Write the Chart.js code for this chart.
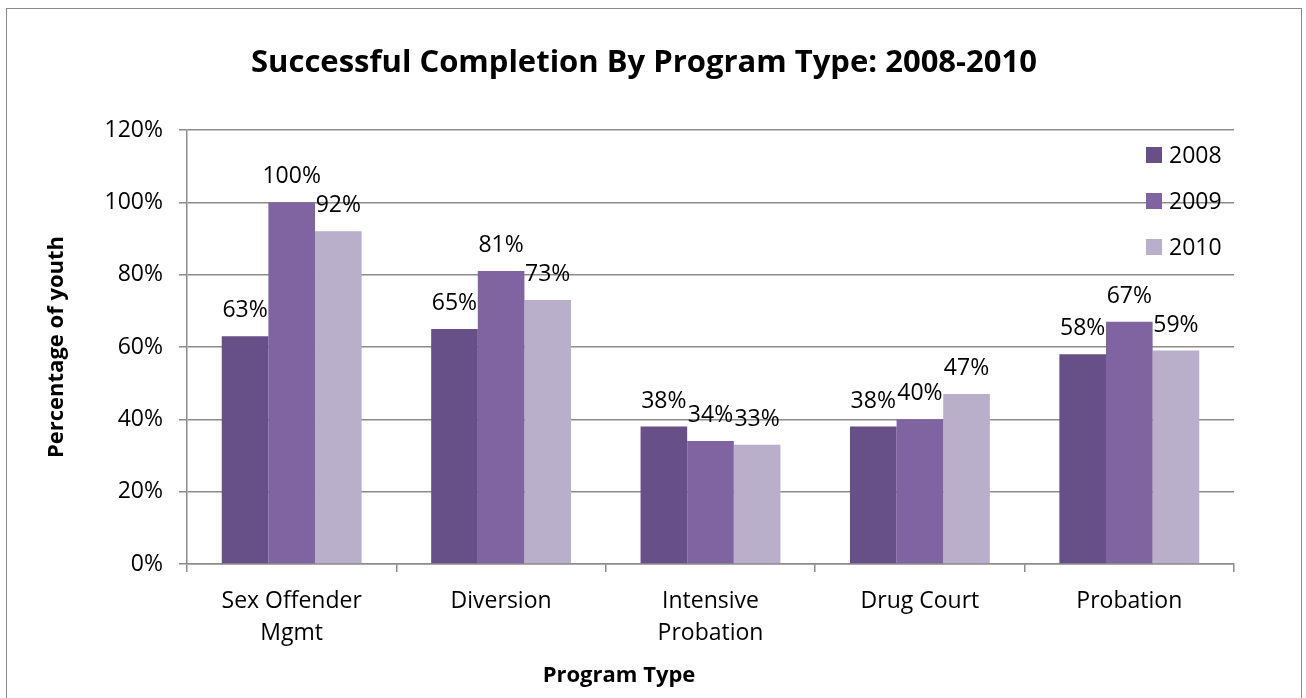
<!DOCTYPE html>
<html>
<head>
<meta charset="utf-8">
<title>Successful Completion By Program Type</title>
<script src="https://cdn.jsdelivr.net/npm/chart.js@4"></script>
<style>
  html, body { margin: 0; padding: 0; background: #fff; }
  #wrap { position: relative; width: 1306px; height: 698px; overflow: hidden; }
  #frame {
    position: absolute; left: 6px; top: 8px; width: 1294px; height: 720px;
    border: 1.5px solid #8a8a8a; pointer-events: none;
  }
  canvas { position: absolute; left: 0; top: 0; }
</style>
</head>
<body>
<div id="wrap">
  <canvas id="completionChart" width="1306" height="698"></canvas>
  <div id="frame"></div>
</div>
<script>
// Program types along the x axis (arrays = wrapped labels)
const programs = [['Sex Offender', 'Mgmt'], 'Diversion', ['Intensive', 'Probation'], 'Drug Court', 'Probation'];
const years = ['2008', '2009', '2010'];

// Percent of youth completing successfully
const completion2008 = [63, 65, 38, 38, 58];
const completion2009 = [100, 81, 34, 40, 67];
const completion2010 = [92, 73, 33, 47, 59];

const yMax = 120;
const yStep = 20;

const barColors = ['#674f87', '#8064a2', '#b9afcb'];
const FONT = 'Open Sans';

// Value labels above each bar
const barLabels = {
  id: 'barLabels',
  afterDatasetsDraw(chart) {
    const ctx = chart.ctx;
    ctx.save();
    ctx.font = '23px "' + FONT + '"';
    ctx.fillStyle = '#000';
    ctx.textAlign = 'center';
    ctx.textBaseline = 'alphabetic';
    chart.data.datasets.forEach(function (ds, i) {
      chart.getDatasetMeta(i).data.forEach(function (bar, j) {
        ctx.fillText(ds.data[j] + '%', bar.x, bar.y - 19);
      });
    });
    ctx.restore();
  }
};

// Title, x axis title and the legend sitting inside the plot area
const extras = {
  id: 'extras',
  afterDraw(chart) {
    const ctx = chart.ctx;
    const area = chart.chartArea;
    ctx.save();
    ctx.fillStyle = '#000';

    ctx.font = 'bold 31px "' + FONT + '"';
    ctx.textAlign = 'center';
    ctx.textBaseline = 'alphabetic';
    ctx.fillText('Successful Completion By Program Type: 2008-2010', 644, 72);

    ctx.font = 'bold 22px "' + FONT + '"';
    ctx.fillText('Program Type', 619, 682);

    ctx.font = '23px "' + FONT + '"';
    ctx.textAlign = 'left';
    ctx.textBaseline = 'middle';
    chart.data.datasets.forEach(function (ds, i) {
      const y = area.top + 25 + i * 46;
      ctx.fillStyle = ds.backgroundColor;
      ctx.fillRect(area.right - 88, y - 8, 16, 16);
      ctx.fillStyle = '#000';
      ctx.fillText(ds.label, area.right - 65, y + 1);
    });
    ctx.restore();
  }
};

const ctx = document.getElementById('completionChart').getContext('2d');
const completionChart = new Chart(ctx, {
  type: 'bar',
  data: {
    labels: programs,
    datasets: [
      { label: years[0], data: completion2008, backgroundColor: barColors[0] },
      { label: years[1], data: completion2009, backgroundColor: barColors[1] },
      { label: years[2], data: completion2010, backgroundColor: barColors[2] }
    ]
  },
  options: {
    responsive: false,
    animation: false,
    layout: { padding: { left: 0, top: 130, right: 72, bottom: 0 } },
    datasets: {
      bar: { categoryPercentage: 0.668, barPercentage: 1.0, borderWidth: 0 }
    },
    plugins: {
      legend: { display: false },
      title: { display: false },
      tooltip: { enabled: false }
    },
    scales: {
      x: {
        grid: { offset: true, drawOnChartArea: false, drawTicks: true, tickLength: 8, color: '#8c8c8c', lineWidth: 1.5 },
        border: { display: true, color: '#8c8c8c', width: 1.5 },
        ticks: {
          color: '#000',
          font: { family: FONT, size: 23, lineHeight: 1.4 },
          padding: 13,
          maxRotation: 0
        },
        afterFit(scale) { scale.height = 134; }
      },
      y: {
        min: 0,
        max: yMax,
        grid: { color: '#8c8c8c', lineWidth: 1.5, tickLength: 8 },
        border: { display: true, color: '#8c8c8c', width: 1.5 },
        ticks: {
          stepSize: yStep,
          color: '#000',
          font: { family: FONT, size: 23 },
          padding: 16,
          callback: function (v) { return v + '%'; }
        },
        title: {
          display: true,
          text: 'Percentage of youth',
          color: '#000',
          font: { family: FONT, size: 22, weight: 'bold', lineHeight: 1.2 },
          padding: { top: 44, bottom: 0 }
        },
        afterFit(scale) { scale.width = 187; }
      }
    }
  },
  plugins: [barLabels, extras]
});
</script>
</body>
</html>
